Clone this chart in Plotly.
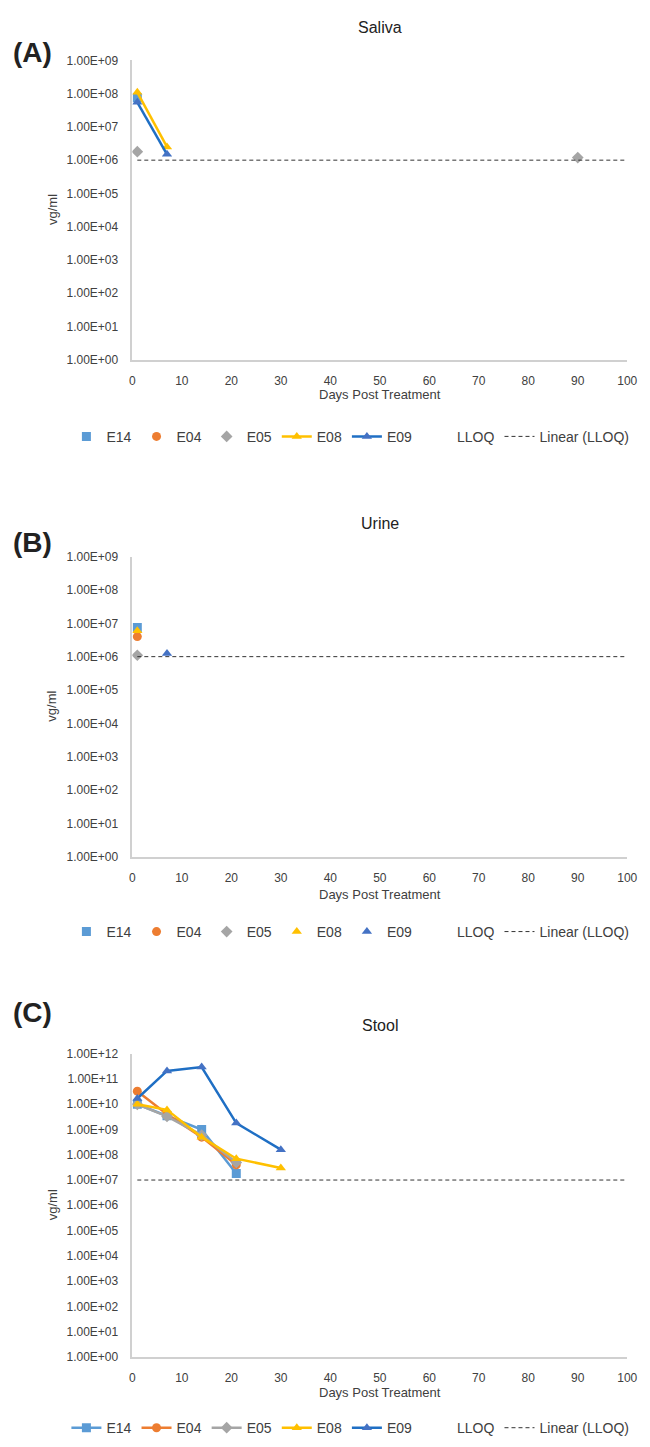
import plotly.graph_objects as go

# ---------------- data ----------------
subjects = ["E14", "E04", "E05", "E08", "E09"]

saliva_x = {"E14": [1], "E04": [None], "E05": [1, 90], "E08": [1, 7], "E09": [1, 7]}
saliva_y = {"E14": [7.5e7], "E04": [None], "E05": [1.8e6, 1.2e6], "E08": [1.1e8, 2.5e6], "E09": [5.5e7, 1.5e6]}

urine_x = {"E14": [1], "E04": [1], "E05": [1], "E08": [1], "E09": [7]}
urine_y = {"E14": [7.5e6], "E04": [4.0e6], "E05": [1.1e6], "E08": [6.0e6], "E09": [1.25e6]}

stool_x = {"E14": [1, 7, 14, 21], "E04": [1, 7, 14, 21], "E05": [1, 7, 14, 21],
           "E08": [1, 7, 14, 21, 30], "E09": [1, 7, 14, 21, 30]}
stool_y = {"E14": [1.0e10, 3.5e9, 1.0e9, 1.8e7],
           "E04": [3.3e10, 4.0e9, 5.0e8, 4.0e7],
           "E05": [1.0e10, 3.3e9, 6.0e8, 5.0e7],
           "E08": [1.0e10, 6.0e9, 5.0e8, 7.0e7, 3.0e7],
           "E09": [1.7e10, 2.1e11, 3.0e11, 1.8e9, 1.6e8]}

lloq_x = [1, 100]
lloq_saliva = 1e6
lloq_urine = 1e6
lloq_stool = 1e7

panel_titles = ["Saliva", "Urine", "Stool"]
panel_labels = ["(A)", "(B)", "(C)"]
x_ticks = list(range(0, 101, 10))

# ---------------- styles ----------------
marker_color = {"E14": "#5B9BD5", "E04": "#ED7D31", "E05": "#A5A5A5", "E08": "#FFC000", "E09": "#4472C4"}
line_color = {"E14": "#5B9BD5", "E04": "#ED7D31", "E05": "#A5A5A5", "E08": "#FFC000", "E09": "#1F6FC4"}
symbol = {"E14": "square", "E04": "circle", "E05": "diamond", "E08": "triangle-up", "E09": "triangle-up"}

W, H = 650, 1447
FONT = "Liberation Sans, Arial, sans-serif"
TXT = "#404040"

def py(px):
    return 1 - px / H

xdom = [132 / W, 637 / W]
panels = [
    dict(top=54, bottom=356, decades=9, title_y=21, label_y=46, xt_y=391, leg_y=434,
         xs=saliva_x, ys=saliva_y, lloq=lloq_saliva, lines={"E08", "E09"}),
    dict(top=555, bottom=858, decades=9, title_y=522, label_y=541, xt_y=896, leg_y=934,
         xs=urine_x, ys=urine_y, lloq=lloq_urine, lines=set()),
    dict(top=1057, bottom=1363, decades=12, title_y=1028, label_y=1015, xt_y=1399, leg_y=1435,
         xs=stool_x, ys=stool_y, lloq=lloq_stool, lines=set(subjects)),
]

fig = go.Figure()
annotations = []
layout = {}

for i, p in enumerate(panels):
    n = "" if i == 0 else str(i + 1)
    xa, ya = "x" + n, "y" + n
    leg = "legend" + n
    for s in subjects:
        is_line = s in p["lines"]
        fig.add_trace(go.Scatter(
            x=p["xs"][s], y=p["ys"][s], name=s,
            mode="lines+markers" if is_line else "markers",
            line=dict(color=line_color[s], width=2.5),
            marker=dict(symbol=symbol[s], color=marker_color[s], size=9,
                        line=dict(width=0)),
            xaxis=xa, yaxis=ya, legend=leg, showlegend=True))
    fig.add_trace(go.Scatter(
        x=lloq_x, y=[p["lloq"]] * 2, name="LLOQ", mode="markers",
        marker=dict(size=1, color="rgba(0,0,0,0)"),
        xaxis=xa, yaxis=ya, legend=leg))
    fig.add_trace(go.Scatter(
        x=lloq_x, y=[p["lloq"]] * 2, name="Linear (LLOQ)", mode="lines",
        line=dict(color="#333333", width=1, dash="4px,3px"),
        xaxis=xa, yaxis=ya, legend=leg))

    d = p["decades"]
    layout["xaxis" + n] = dict(
        domain=xdom, anchor=ya, range=[0, 100], tickvals=x_ticks,
        showline=True, linecolor="#D0D0D0", linewidth=1.5, showgrid=False,
        zeroline=False, ticks="", ticklabelstandoff=9,
        tickfont=dict(size=12, color=TXT, family=FONT))
    layout["yaxis" + n] = dict(
        domain=[py(p["bottom"]), py(p["top"])], anchor=xa, type="log",
        range=[0, d], tickvals=[10 ** k for k in range(d + 1)],
        ticktext=["1.00E+%02d" % k for k in range(d + 1)],
        showline=True, linecolor="#D0D0D0", linewidth=1.5, showgrid=False,
        zeroline=False, ticks="", ticklabelstandoff=10,
        tickfont=dict(size=12, color=TXT, family=FONT))
    layout[leg] = dict(
        orientation="h", x=354.5 / W, xanchor="center", y=py(p["leg_y"]), yanchor="middle",
        font=dict(size=14, color=TXT, family=FONT), bgcolor="rgba(0,0,0,0)",
        itemclick=False, tracegroupgap=0)

    annotations += [
        dict(text=panel_titles[i], x=384.5 / W, y=py(p["title_y"]), xref="paper", yref="paper",
             showarrow=False, font=dict(size=16, color="#222222", family=FONT),
             xanchor="center", yanchor="middle"),
        dict(text="<b>" + panel_labels[i] + "</b>", x=8 / W, y=py(p["label_y"]),
             xref="paper", yref="paper", showarrow=False,
             font=dict(size=28, color="#222222", family=FONT),
             xanchor="left", yanchor="middle"),
        dict(text="Days Post Treatment", x=384.5 / W, y=py(p["xt_y"]), xref="paper", yref="paper",
             showarrow=False, font=dict(size=13, color=TXT, family=FONT),
             xanchor="center", yanchor="middle"),
        dict(text="vg/ml", x=50 / W, y=py((p["top"] + p["bottom"]) / 2), xref="paper",
             yref="paper", showarrow=False, textangle=-90,
             font=dict(size=13, color=TXT, family=FONT),
             xanchor="center", yanchor="middle"),
    ]

fig.update_layout(
    width=W, height=H, margin=dict(l=0, r=0, t=0, b=0),
    paper_bgcolor="white", plot_bgcolor="white",
    font=dict(family=FONT, color=TXT),
    annotations=annotations, **layout)

fig.write_html("out.html", config={"displayModeBar": False},
               post_script="document.body.style.margin='0';document.body.style.padding='0';")
